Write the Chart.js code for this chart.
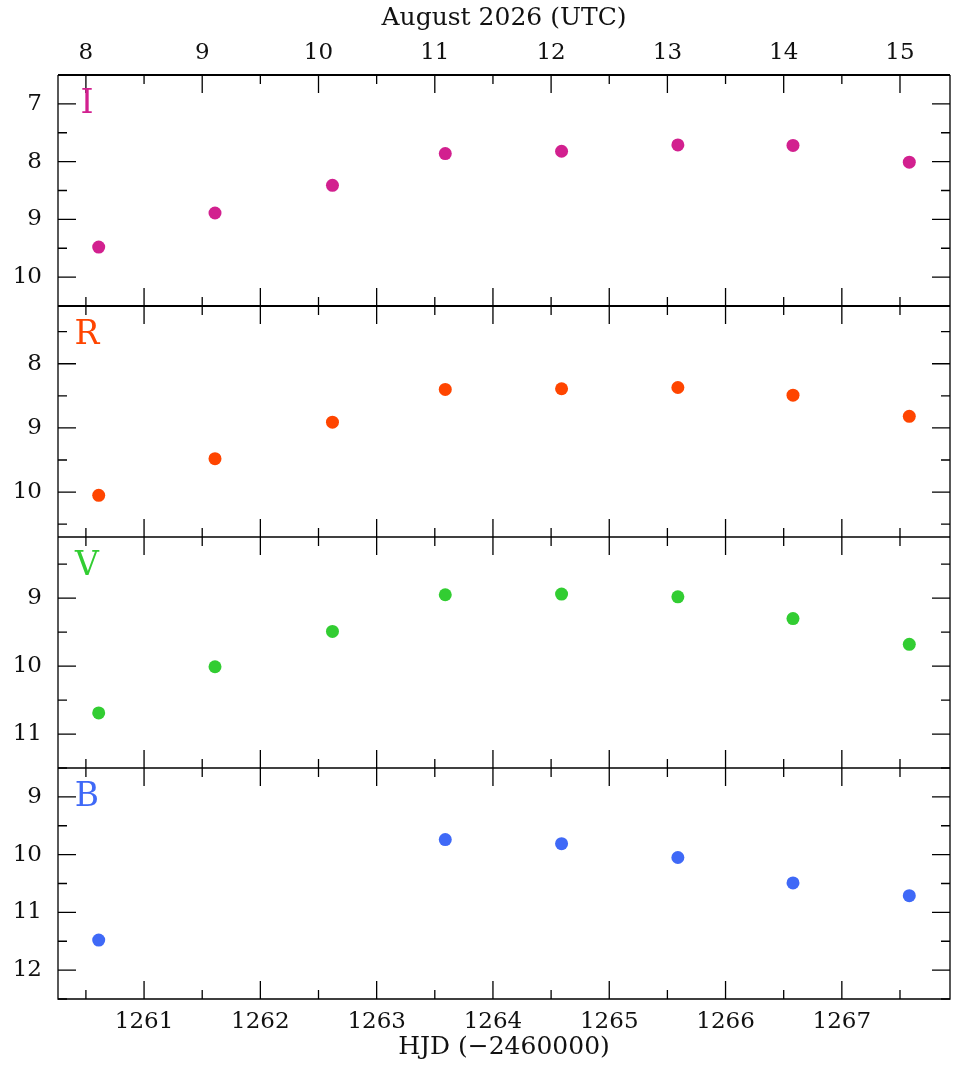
<!DOCTYPE html>
<html>
<head>
<meta charset="utf-8">
<title>Light curves I R V B</title>
<script src="https://cdn.jsdelivr.net/npm/chart.js@4.4.1/dist/chart.umd.min.js"></script>
<style>
  html, body { margin: 0; padding: 0; background: #fff; }
  #wrap { width: 968px; height: 1068px; }
</style>
</head>
<body>
<div id="wrap"><canvas id="lc" width="968" height="1068"></canvas></div>
<script>
// observation times, HJD - 2460000
const hjd = [1260.61, 1261.61, 1262.62, 1263.59, 1264.59, 1265.59, 1266.58, 1267.58];
const hjdB = [1260.61, 1263.59, 1264.59, 1265.59, 1266.58, 1267.58];

// magnitudes per filter
const magI = [9.48, 8.89, 8.41, 7.86, 7.82, 7.71, 7.72, 8.01];
const magR = [10.05, 9.48, 8.91, 8.40, 8.39, 8.37, 8.49, 8.82];
const magV = [10.69, 10.01, 9.49, 8.95, 8.94, 8.98, 9.30, 9.68];
const magB = [11.48, 9.74, 9.81, 10.05, 10.49, 10.71];

// tick labels
const hjdTicks = [1261, 1262, 1263, 1264, 1265, 1266, 1267];
const dateTicks = [8, 9, 10, 11, 12, 13, 14, 15];
const ticksI = [7, 8, 9, 10];
const ticksR = [8, 9, 10];
const ticksV = [9, 10, 11];
const ticksB = [9, 10, 11, 12];

const HJD_MIN = 1260.26, HJD_MAX = 1267.93;
const DATE_OFFSET = 1252.5; // August day = HJD - 1252.5

const FONT = "'DejaVu Serif', serif";
const MAJOR = 18, MINOR = 9;

const panels = [
  { id: "yI", name: "I", color: "#d2208f", x: hjd, y: magI, ticks: ticksI, min: 6.5, max: 10.5, weight: 4 },
  { id: "yR", name: "R", color: "#ff4500", x: hjd, y: magR, ticks: ticksR, min: 7.1, max: 10.7, weight: 3 },
  { id: "yV", name: "V", color: "#32cd32", x: hjd, y: magV, ticks: ticksV, min: 8.1, max: 11.5, weight: 2 },
  { id: "yB", name: "B", color: "#3f69f7", x: hjdB, y: magB, ticks: ticksB, min: 8.5, max: 12.5, weight: 1 },
];

function setTicks(list) {
  return (scale) => { scale.ticks = list.map((v) => ({ value: v })); };
}

function drawTicks(ctx, scale, edgeY, dir) {
  const start = Math.ceil(scale.min * 2) / 2;
  for (let v = start; v <= scale.max; v += 0.5) {
    const px = scale.getPixelForValue(v);
    const len = Number.isInteger(v) ? MAJOR : MINOR;
    ctx.moveTo(px, edgeY);
    ctx.lineTo(px, edgeY + dir * len);
  }
}

// frame, inward ticks and filter names
const panelPlugin = {
  id: "panels",
  beforeDatasetsDraw(chart) {
    const { ctx, chartArea: a } = chart;
    const xs = chart.scales.x;
    const xt = chart.scales.x2;
    ctx.save();
    ctx.strokeStyle = "#000";
    ctx.lineWidth = 1.3;
    ctx.beginPath();
    panels.forEach((p, i) => {
      const ys = chart.scales[p.id];
      const start = Math.ceil(ys.min * 2) / 2;
      for (let v = start; v <= ys.max; v += 0.5) {
        const py = ys.getPixelForValue(v);
        const len = Number.isInteger(v) ? MAJOR : MINOR;
        ctx.moveTo(a.left, py);
        ctx.lineTo(a.left + len, py);
        ctx.moveTo(a.right, py);
        ctx.lineTo(a.right - len, py);
      }
      drawTicks(ctx, i === 0 ? xt : xs, ys.top, 1);
      drawTicks(ctx, xs, ys.bottom, -1);
    });
    ctx.stroke();

    // frame
    ctx.beginPath();
    ctx.moveTo(a.left, a.top);
    ctx.lineTo(a.left, a.bottom);
    ctx.lineTo(a.right, a.bottom);
    ctx.lineTo(a.right, a.top);
    ctx.stroke();
    panels.forEach((p, i) => {
      const ys = chart.scales[p.id];
      ctx.lineWidth = i < 2 ? 2 : 1.3;
      ctx.beginPath();
      ctx.moveTo(a.left, ys.top);
      ctx.lineTo(a.right, ys.top);
      ctx.stroke();
    });

    // filter names
    ctx.font = "33px " + FONT;
    ctx.textAlign = "center";
    ctx.textBaseline = "middle";
    panels.forEach((p) => {
      const ys = chart.scales[p.id];
      ctx.fillStyle = p.color;
      ctx.fillText(p.name, a.left + 29, ys.top + 29);
    });
    ctx.restore();
  },
};

const tickFont = { family: FONT, size: 23 };
const titleFont = { family: FONT, size: 25 };

const scales = {
  x: {
    type: "linear",
    position: "bottom",
    min: HJD_MIN,
    max: HJD_MAX,
    afterBuildTicks: setTicks(hjdTicks),
    afterFit: (s) => { s.height = 69; },
    grid: { display: false, drawTicks: false },
    border: { display: false },
    ticks: { font: tickFont, color: "#111", padding: 9, maxRotation: 0, callback: (v) => String(v) },
    title: { display: true, text: "HJD (\u22122460000)", font: titleFont, color: "#111", padding: { top: 0, bottom: 5.3 } },
  },
  x2: {
    type: "linear",
    position: "top",
    min: HJD_MIN - DATE_OFFSET,
    max: HJD_MAX - DATE_OFFSET,
    afterBuildTicks: setTicks(dateTicks),
    afterFit: (s) => { s.height = 75; },
    grid: { display: false, drawTicks: false },
    border: { display: false },
    ticks: { font: tickFont, color: "#111", padding: 8, maxRotation: 0, callback: (v) => String(v) },
    title: { display: true, text: "August 2026 (UTC)", font: titleFont, color: "#111", padding: { top: 3, bottom: 0 } },
  },
};

panels.forEach((p) => {
  scales[p.id] = {
    type: "linear",
    position: "left",
    stack: "mag",
    stackWeight: 1,
    weight: p.weight,
    reverse: true,
    min: p.min,
    max: p.max,
    afterBuildTicks: setTicks(p.ticks),
    afterFit: (s) => { s.width = 58; },
    grid: { display: false, drawTicks: false },
    border: { display: false },
    ticks: { font: tickFont, color: "#111", padding: 16, autoSkip: false, callback: (v) => String(v) },
  };
});

const datasets = panels.map((p) => ({
  label: p.name,
  yAxisID: p.id,
  xAxisID: "x",
  data: p.x.map((t, i) => ({ x: t, y: p.y[i] })),
  backgroundColor: p.color,
  borderWidth: 0,
  pointRadius: 6.5,
  pointHoverRadius: 6.5,
  showLine: false,
}));

new Chart(document.getElementById("lc"), {
  type: "scatter",
  data: { datasets: datasets },
  options: {
    responsive: false,
    animation: false,
    layout: { padding: { left: 0, right: 18, top: 0, bottom: 0 } },
    plugins: {
      legend: { display: false },
      tooltip: { enabled: false },
    },
    events: [],
    scales: scales,
  },
  plugins: [panelPlugin],
});
</script>
</body>
</html>
